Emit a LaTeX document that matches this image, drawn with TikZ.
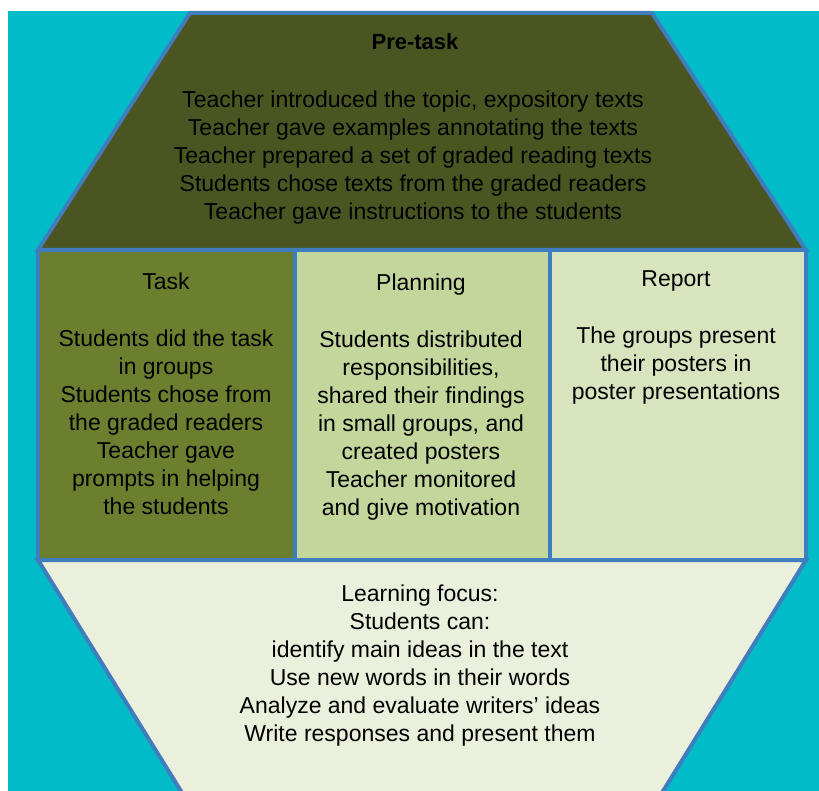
\documentclass[tikz,border=0pt]{standalone}
\usepackage{fontspec}
\setmainfont{Liberation Sans}
\definecolor{bgcyan}{RGB}{0,188,200}
\definecolor{edgeblue}{RGB}{64,125,190}
\definecolor{pretask}{RGB}{74,85,34}
\definecolor{taskgreen}{RGB}{107,127,47}
\definecolor{planning}{RGB}{195,214,155}
\definecolor{report}{RGB}{215,228,189}
\definecolor{focus}{RGB}{234,240,219}

\begin{document}
\begin{tikzpicture}[x = 1pt, y = -1pt,
    panel/.style = {draw = edgeblue, line width = 4pt, line join = miter},
    every node/.style = {align = center, inner sep = 0pt,
        font = \fontsize{23}{28}\selectfont}]
    \useasboundingbox (0,0) rectangle (819,791);
    \fill[white] (0,0) rectangle (819,791);
    \fill[bgcyan] (8,11) rectangle (819,791);

    % panels
    \begin{scope}
        \clip (8,11) rectangle (819,791);
        \filldraw[panel, fill = focus] (38,560) -- (806,560) -- (660,796) -- (184,796) -- cycle;
        \filldraw[panel, fill = pretask] (190,13) -- (652,13) -- (806,250) -- (38,250) -- cycle;
    \end{scope}
    \filldraw[panel, fill = taskgreen] (38,250) rectangle (295,560);
    \filldraw[panel, fill = planning] (295,250) rectangle (550,560);
    \filldraw[panel, fill = report] (550,250) rectangle (806,560);

    % texts
    \node[font = \fontsize{22}{28}\selectfont\bfseries] (pretitle) at (415,42) {Pre-task};
    \node (prebody) at (413,158) {Teacher introduced the topic, expository texts\\
        Teacher gave examples annotating the texts\\
        Teacher prepared a set of graded reading texts\\
        Students chose texts from the graded readers\\
        Teacher gave instructions to the students};
    \node (tasktitle) at (166,281) {Task};
    \node (taskbody) at (166,422) {Students did the task\\ in groups\\
        Students chose from\\ the graded readers\\ Teacher gave\\
        prompts in helping\\ the students};
    \node (plantitle) at (421,285) {Planning};
    \node (planbody) at (421,426) {Students distributed\\ responsibilities,\\
        shared their findings\\ in small groups, and\\ created posters\\
        Teacher monitored\\ and give motivation};
    \node (reporttitle) at (676,281) {Report};
    \node (reportbody) at (676,366) {The groups present\\ their posters in\\
        poster presentations};
    \node (focusbody) at (420,666) {Learning focus:\\ Students can:\\
        identify main ideas in the text\\ Use new words in their words\\
        Analyze and evaluate writers’ ideas\\ Write responses and present them};
\end{tikzpicture}
\end{document}
